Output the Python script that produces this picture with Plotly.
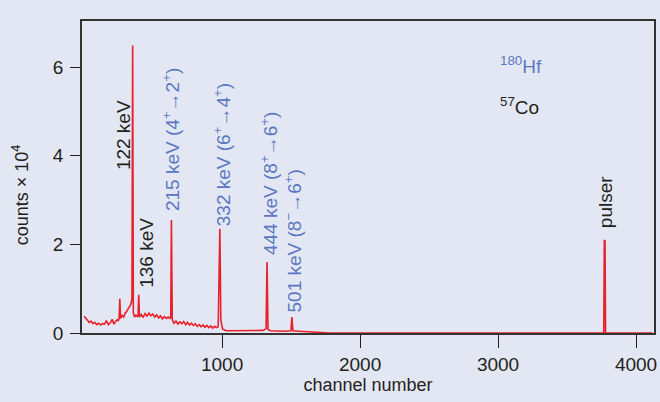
import plotly.graph_objects as go

# Spectrum data (channel number, counts in units of 10^4)
channel = [0, 10, 22, 36, 50, 64, 78, 92, 106, 120, 134, 148, 162, 176, 190, 204, 216, 228, 240, 248,
           254, 259, 264, 276, 288, 298, 308, 318, 328, 336, 343, 347, 352, 357, 366, 376, 386, 391,
           396, 401, 414, 428, 442, 456, 470, 484, 498, 512, 526, 540, 554, 568, 582, 596, 610, 622,
           628, 633, 639, 652, 666, 680, 694, 708, 722, 736, 750, 764, 778, 792, 806, 820, 834, 848,
           862, 876, 890, 904, 918, 932, 946, 958, 972, 984, 991, 1003, 1030, 1100, 1200, 1298, 1319,
           1326, 1333, 1350, 1450, 1499, 1506, 1513, 1560, 1660, 1780, 3766, 3770, 3775, 3779, 4120]
counts = [0.38, 0.33, 0.30, 0.24, 0.27, 0.21, 0.24, 0.19, 0.22, 0.18, 0.21, 0.20, 0.28, 0.19, 0.23, 0.31, 0.20, 0.26, 0.30, 0.27,
          0.33, 0.77, 0.33, 0.40, 0.36, 0.45, 0.48, 0.54, 0.58, 0.63, 0.70, 0.78, 6.49, 0.45, 0.36, 0.40, 0.37, 0.38,
          0.86, 0.36, 0.42, 0.35, 0.44, 0.38, 0.45, 0.39, 0.43, 0.36, 0.41, 0.34, 0.39, 0.32, 0.37, 0.33, 0.36, 0.33,
          0.35, 2.55, 0.30, 0.22, 0.27, 0.20, 0.25, 0.21, 0.26, 0.19, 0.24, 0.18, 0.22, 0.17, 0.21, 0.15, 0.19, 0.14,
          0.18, 0.13, 0.17, 0.12, 0.16, 0.11, 0.15, 0.12, 0.14, 2.35, 0.30, 0.09, 0.05, 0.05, 0.05, 0.06, 0.10,
          1.60, 0.08, 0.05, 0.04, 0.05, 0.36, 0.05, 0.04, 0.02, 0.0, 0.0, 2.10, 2.08, 0.0, 0.0]

# Peak labels: text, x (channel), y (bottom of label), colour group
ARROW = "→"
label_text = ["122 keV", "136 keV",
              f"215 keV (4<sup>+</sup>{ARROW}2<sup>+</sup>)", f"332 keV (6<sup>+</sup>{ARROW}4<sup>+</sup>)",
              f"444 keV (8<sup>+</sup>{ARROW}6<sup>+</sup>)", f"501 keV (8<sup>−</sup>{ARROW}6<sup>+</sup>)",
              "pulser"]
label_x = [282, 447, 635, 1005, 1335, 1515, 3775]
label_y = [3.63, 0.97, 2.71, 2.37, 1.71, 0.41, 2.32]
label_group = ["Co", "Co", "Hf", "Hf", "Hf", "Hf", "Co"]

x_ticks = [1000, 2000, 3000, 4000]
y_ticks = [0, 2, 4, 6]

BG = "#e3e7f3"
BLUE = "#5a78c2"
DARK = "#231f20"
RED = "#e8202a"
FONT = "Liberation Sans, Arial, DejaVu Sans, sans-serif"

fig = go.Figure()
fig.add_trace(go.Scatter(x=channel, y=counts, mode="lines",
                         line=dict(color=RED, width=1.6), hoverinfo="skip", showlegend=False))

for t, x, y, g in zip(label_text, label_x, label_y, label_group):
    fig.add_annotation(x=x, y=y, xref="x", yref="y", text=t, textangle=-90, showarrow=False,
                       xanchor="center", yanchor="bottom",
                       font=dict(family=FONT, size=19, color=BLUE if g == "Hf" else DARK))

fig.add_annotation(x=0.727, y=0.859, xref="paper", yref="paper", text="<sup>180</sup>Hf",
                   showarrow=False, xanchor="left", yanchor="middle",
                   font=dict(family=FONT, size=19, color=BLUE))
fig.add_annotation(x=0.727, y=0.728, xref="paper", yref="paper", text="<sup>57</sup>Co",
                   showarrow=False, xanchor="left", yanchor="middle",
                   font=dict(family=FONT, size=19, color=DARK))
fig.add_annotation(x=-0.108, y=0.442, xref="paper", yref="paper", text="counts × 10<sup>4</sup>",
                   textangle=-90, showarrow=False, xanchor="center", yanchor="middle",
                   font=dict(family=FONT, size=18, color=DARK))

fig.update_layout(
    width=660, height=402,
    margin=dict(l=82, r=6, t=21, b=69),
    paper_bgcolor=BG, plot_bgcolor=BG,
    font=dict(family=FONT, size=19, color=DARK),
    xaxis=dict(range=[-15, 4130], tickvals=x_ticks, ticks="outside", ticklen=13, tickwidth=1.2,
               tickcolor=DARK, showline=True, linecolor="#333333", linewidth=1.5, mirror=True,
               showgrid=False, zeroline=False, automargin=False, ticklabeloverflow="allow",
               title=dict(text="channel number", font=dict(size=18), standoff=1)),
    yaxis=dict(range=[0, 7.04], tickvals=y_ticks, ticks="outside", ticklen=10, tickwidth=1.2,
               tickcolor=DARK, showline=True, linecolor="#333333", linewidth=1.5, mirror=True,
               showgrid=False, zeroline=False, ticklabelstandoff=3, automargin=False),
)

fig.write_html("out.html", config={"displayModeBar": False},
               post_script="document.body.style.margin='0';document.body.style.background='#e3e7f3';")
